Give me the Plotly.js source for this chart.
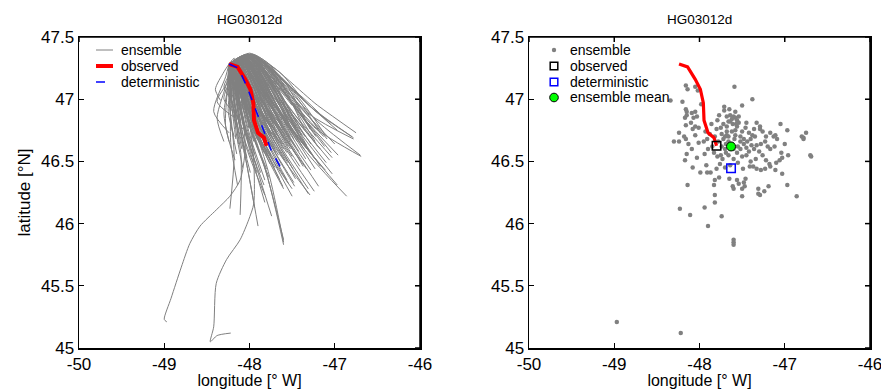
<!DOCTYPE html>
<html>
<head>
<meta charset="utf-8">
<script src="https://cdn.plot.ly/plotly-3.0.1.min.js"></script>
<style>html,body{margin:0;padding:0;background:#fff;}#chart{width:881px;height:389px;}</style>
</head>
<body>
<div id="chart"></div>
<script>
// ---------------- data ----------------
const plotTitle = 'HG03012d';
const xRange = [-50, -46];
const yRange = [45, 47.5];
const xTickVals = [-50, -49, -48, -47, -46];
const xTickText = ['-50', '-49', '-48', '-47', '-46'];
const yTickVals = [45, 45.5, 46, 46.5, 47, 47.5];
const yTickText = ['45', '45.5', '46', '46.5', '47', '47.5'];
const legendLeftLabels = ['ensemble', 'observed', 'deterministic'];
const legendRightLabels = ['ensemble', 'observed', 'deterministic', 'ensemble mean'];

// observed drifter track
const obsLon = [-48.24, -48.14, -48.05, -47.99, -47.955, -47.947, -47.90, -47.83, -47.80];
const obsLat = [47.283, 47.26, 47.16, 47.08, 46.97, 46.83, 46.73, 46.69, 46.625];
// deterministic forecast track
const detLon = [-48.24, -48.13, -48.03, -47.94, -47.84, -47.74, -47.63];
const detLat = [47.283, 47.25, 47.10, 46.94, 46.75, 46.58, 46.445];
// ensemble mean end position
const meanLon = [-47.63];
const meanLat = [46.62];

// ensemble members: early waypoint, mid waypoint, end position
const endLon = [
-48.16,-48.14,-48.05,-48.02,-47.59,-47.38,-48.34,-48.20,-47.50,-47.98,
-48.16,-48.15,-48.15,-48.17,-48.09,-48.05,-48.07,-48.03,-47.71,-47.71,
-47.77,-47.68,-47.64,-47.60,-47.58,-47.56,-47.54,-47.45,-47.33,-47.29,
-47.05,-47.62,-47.66,-47.57,-48.16,-48.10,-48.05,-48.08,-48.01,-48.24,
-48.18,-48.05,-47.79,-47.75,-47.72,-47.68,-47.64,-47.61,-47.56,-47.54,
-47.68,-47.66,-47.70,-47.62,-47.58,-47.50,-47.46,-47.42,-47.38,-47.36,
-47.29,-47.26,-47.17,-47.13,-47.11,-46.97,-46.80,-46.78,-46.75,-46.78,
-48.30,-48.24,-48.16,-48.13,-48.01,-47.95,-47.91,-47.85,-47.72,-47.69,
-47.68,-47.74,-47.59,-47.52,-47.48,-47.39,-47.33,-47.28,-47.23,-47.17,
-47.09,-47.55,-47.45,-47.60,-47.78,-47.82,-47.88,-47.93,-48.15,-48.09,
-48.03,-48.17,-47.83,-47.79,-47.75,-47.73,-47.69,-47.66,-47.56,-47.50,
-47.40,-47.34,-47.26,-47.22,-47.18,-47.10,-47.04,-47.03,-46.96,-46.70,
-46.69,-48.08,-47.99,-47.92,-47.91,-47.87,-47.80,-47.49,-47.41,-47.37,
-47.33,-47.28,-47.23,-47.17,-47.11,-47.03,-47.06,-47.55,-47.60,-47.45,
-47.64,-48.14,-47.83,-47.82,-47.77,-47.65,-47.56,-47.54,-47.50,-47.47,
-47.46,-47.48,-47.31,-47.29,-47.24,-47.19,-46.97,-46.86,-47.82,-47.60,
-47.61,-47.50,-47.31,-48.23,-48.11,-47.94,-47.82,-47.74,-47.90,-47.60,
-47.60,-47.60,-47.70,-47.66,-47.62,-47.58,-47.52,-47.48,
-47.44,-47.42,-47.36,-47.30,-47.74,-47.80,-47.86,-47.90,-47.94,-47.76,
-47.70,-47.52,-47.40,-47.35,-47.22,-47.20,-47.12,-47.00,-47.58,-47.65];
const endLat = [
47.11,47.08,47.10,47.07,47.10,47.00,46.99,46.98,46.95,46.96,
46.92,46.90,46.87,46.85,46.89,46.90,46.85,46.86,46.94,46.91,
46.87,46.86,46.87,46.86,46.85,46.83,46.86,46.81,46.81,46.78,
46.80,46.84,46.82,46.80,46.79,46.81,46.78,46.76,46.77,46.73,
46.70,46.71,46.83,46.77,46.80,46.78,46.82,46.80,46.78,46.81,
46.74,46.70,46.70,46.74,46.71,46.74,46.77,46.73,46.71,46.76,
46.76,46.74,46.73,46.70,46.71,46.75,46.70,46.68,46.73,46.69,
46.66,46.66,46.68,46.64,46.65,46.66,46.68,46.62,46.68,46.64,
46.71,46.62,46.68,46.66,46.64,46.63,46.63,46.64,46.66,46.60,
46.68,46.62,46.61,46.60,46.66,46.70,46.72,46.74,46.56,46.60,
46.53,46.51,46.57,46.54,46.55,46.52,46.57,46.55,46.57,46.54,
46.50,46.52,46.55,46.51,46.48,46.49,46.57,46.53,46.55,46.55,
46.54,46.45,46.41,46.47,46.41,46.41,46.44,46.44,46.46,46.46,
46.44,46.43,46.44,46.46,46.43,46.40,46.51,46.49,46.52,46.55,
46.47,46.31,46.31,46.35,46.37,46.36,46.35,46.32,46.28,46.30,
46.36,46.33,46.28,46.23,46.26,46.30,46.31,46.22,46.23,46.28,
46.30,46.22,46.24,46.12,46.07,46.13,46.17,46.06,45.98,45.87,
45.85,45.83,46.60,46.66,46.64,46.75,46.70,46.68,
46.66,46.58,46.60,46.58,46.72,46.76,46.80,46.60,46.56,46.48,
46.45,46.60,46.68,46.70,46.70,46.62,46.62,46.64,46.90,46.92];
const earlyLon = [
-48.18,-48.15,-48.10,-48.12,-48.00,-48.02,-48.30,-48.24,-48.05,-48.15,
-48.20,-48.18,-48.22,-48.25,-48.15,-48.12,-48.20,-48.14,-48.08,-48.10,
-48.12,-48.05,-48.00,-48.08,-48.03,-48.10,-47.98,-48.00,-48.00,-48.02,
-48.02,-48.06,-48.10,-48.04,-48.20,-48.18,-48.16,-48.24,-48.13,-48.28,
-48.22,-48.17,-48.12,-48.10,-48.07,-48.12,-48.04,-48.09,-48.02,-47.98,
-48.14,-48.10,-48.16,-48.06,-48.08,-48.02,-47.98,-48.04,-48.00,-47.96,
-47.98,-48.00,-47.96,-48.02,-48.00,-47.98,-47.95,-47.98,-47.96,-47.92,
-48.26,-48.25,-48.22,-48.20,-48.16,-48.15,-48.14,-48.15,-48.10,-48.12,
-48.06,-48.14,-48.05,-48.03,-48.06,-48.00,-47.97,-48.01,-47.95,-48.00,
-47.93,-48.08,-48.04,-48.11,-48.13,-48.16,-48.17,-48.14,-48.24,-48.20,
-48.22,-48.26,-48.16,-48.15,-48.13,-48.17,-48.12,-48.10,-48.07,-48.09,
-48.05,-48.02,-47.99,-48.03,-48.00,-47.97,-47.94,-47.98,-47.92,-47.97,
-47.94,-48.20,-48.18,-48.17,-48.19,-48.15,-48.14,-48.10,-48.06,-48.03,
-48.07,-48.02,-47.99,-47.96,-48.00,-47.95,-47.97,-48.10,-48.12,-48.06,
-48.13,-48.22,-48.17,-48.15,-48.14,-48.12,-48.10,-48.12,-48.14,-48.08,
-48.06,-48.10,-48.05,-48.08,-48.02,-47.99,-47.96,-47.98,-48.18,-48.14,
-48.12,-48.10,-48.06,-48.24,-48.22,-48.20,-48.18,-48.17,-48.22,-48.16,
-48.14,-48.18,-48.12,-48.09,-48.07,-48.04,-48.06,-48.01,
-48.05,-48.08,-48.03,-47.99,-48.11,-48.13,-48.15,-48.18,-48.19,-48.16,
-48.14,-48.07,-47.98,-47.96,-47.98,-48.00,-47.97,-47.93,-48.05,-48.08];
const earlyLat = [
47.33,47.32,47.34,47.30,47.37,47.36,47.22,47.20,47.35,47.30,
47.22,47.25,47.18,47.15,47.26,47.30,47.20,47.25,47.34,47.30,
47.28,47.33,47.35,47.32,47.36,47.31,47.36,47.36,47.36,47.34,
47.36,47.31,47.29,47.33,47.20,47.24,47.22,47.18,47.25,47.18,
47.15,47.20,47.27,47.28,47.32,47.26,47.34,47.30,47.35,47.36,
47.26,47.28,47.22,47.30,47.30,47.34,47.36,47.33,47.35,47.36,
47.36,47.34,47.35,47.33,47.36,47.36,47.35,47.35,47.36,47.34,
47.15,47.12,47.16,47.14,47.20,47.22,47.24,47.20,47.27,47.25,
47.30,47.23,47.31,47.32,47.30,47.34,47.35,47.33,47.35,47.33,
47.34,47.28,47.31,47.26,47.24,47.22,47.20,47.26,47.12,47.16,
47.10,47.08,47.20,47.18,47.22,47.17,47.24,47.25,47.28,47.27,
47.30,47.32,47.34,47.31,47.32,47.34,47.35,47.33,47.34,47.36,
47.35,47.10,47.12,47.15,47.10,47.16,47.18,47.25,47.28,47.30,
47.27,47.30,47.33,47.35,47.31,47.34,47.33,47.24,47.22,47.29,
47.20,47.05,47.12,47.15,47.16,47.20,47.22,47.20,47.18,47.24,
47.26,47.22,47.26,47.24,47.28,47.30,47.32,47.30,47.10,47.16,
47.18,47.20,47.24,47.02,47.05,47.08,47.10,47.10,47.04,47.14,
47.16,47.12,47.24,47.28,47.30,47.33,47.31,47.34,
47.30,47.28,47.31,47.34,47.27,47.26,47.24,47.18,47.16,47.18,
47.20,47.29,47.35,47.35,47.36,47.33,47.35,47.34,47.35,47.33];
const midLon = [
-48.22,-48.25,-48.00,-48.06,-47.75,-47.65,-48.40,-48.30,-47.80,-48.05,
-48.25,-48.12,-48.30,-48.38,-48.10,-48.02,-48.15,-48.08,-47.90,-47.92,
-47.95,-47.88,-47.80,-47.85,-47.78,-47.83,-47.72,-47.70,-47.60,-47.62,
-47.42,-47.86,-47.90,-47.80,-48.22,-48.15,-48.12,-48.20,-48.05,-48.42,
-48.25,-48.12,-47.98,-47.95,-47.90,-47.92,-47.84,-47.85,-47.78,-47.74,
-47.95,-47.90,-47.98,-47.86,-47.84,-47.76,-47.70,-47.72,-47.68,-47.62,
-47.58,-47.60,-47.52,-47.56,-47.48,-47.35,-47.25,-47.30,-47.20,-47.22,
-48.38,-48.30,-48.20,-48.16,-48.10,-48.05,-48.02,-48.00,-47.92,-47.92,
-47.88,-47.96,-47.82,-47.78,-47.76,-47.70,-47.64,-47.62,-47.56,-47.58,
-47.50,-47.82,-47.74,-47.86,-47.98,-48.00,-48.04,-48.06,-48.22,-48.16,
-48.12,-48.28,-48.02,-48.00,-47.96,-47.98,-47.92,-47.90,-47.84,-47.80,
-47.72,-47.68,-47.62,-47.62,-47.60,-47.54,-47.48,-47.50,-47.38,-47.20,
-47.25,-48.16,-48.10,-48.06,-48.08,-48.02,-47.98,-47.80,-47.74,-47.70,
-47.70,-47.64,-47.60,-47.55,-47.56,-47.48,-47.50,-47.84,-47.88,-47.76,
-47.90,-48.22,-48.04,-48.00,-47.98,-47.92,-47.86,-47.86,-47.86,-47.80,
-47.78,-47.82,-47.70,-47.72,-47.66,-47.60,-47.48,-47.36,-48.05,-47.90,
-47.88,-47.82,-47.68,-48.18,-48.10,-48.06,-48.00,-47.96,-48.04,-47.82,
-47.78,-47.80,-47.92,-47.88,-47.84,-47.82,-47.78,-47.74,
-47.72,-47.74,-47.68,-47.64,-47.94,-47.97,-48.00,-48.04,-48.08,-47.96,
-47.94,-47.80,-47.66,-47.64,-47.54,-47.58,-47.52,-47.44,-47.82,-47.86];
const midLat = [
47.20,47.18,47.25,47.18,47.27,47.22,47.08,47.10,47.20,47.10,
47.05,47.05,47.00,46.98,47.10,47.10,47.00,47.05,47.15,47.10,
47.05,47.10,47.12,47.08,47.15,47.05,47.16,47.12,47.15,47.08,
47.04,47.05,47.02,47.06,46.98,47.02,47.00,46.95,47.00,46.90,
46.90,46.95,47.02,46.98,47.05,47.00,47.10,47.04,47.08,47.12,
46.96,46.95,46.92,47.00,46.98,47.04,47.10,47.02,47.04,47.12,
47.10,47.06,47.08,47.02,47.06,46.98,46.92,46.88,46.95,46.90,
46.85,46.88,46.90,46.88,46.90,46.92,46.94,46.88,46.95,46.90,
46.98,46.88,46.98,46.98,46.95,46.98,47.00,46.98,47.02,46.94,
47.02,46.94,46.94,46.90,46.92,46.96,46.97,47.00,46.82,46.86,
46.80,46.78,46.85,46.82,46.84,46.80,46.86,46.85,46.88,46.86,
46.86,46.90,46.92,46.88,46.85,46.88,46.95,46.90,46.86,46.82,
46.78,46.75,46.72,46.78,46.72,46.74,46.76,46.80,46.82,46.84,
46.80,46.80,46.84,46.86,46.80,46.80,46.88,46.82,46.84,46.88,
46.80,46.65,46.70,46.72,46.74,46.74,46.74,46.70,46.66,46.70,
46.76,46.72,46.70,46.64,46.70,46.74,46.74,46.60,46.64,46.68,
46.70,46.64,46.66,46.55,46.55,46.58,46.60,46.55,46.50,46.45,
46.42,46.40,46.88,46.94,46.94,47.02,47.00,47.00,
46.96,46.90,46.92,46.94,46.98,47.00,47.02,46.88,46.84,46.78,
46.76,46.92,47.02,47.04,47.00,46.98,46.98,46.96,47.15,47.14];

// two long southward members (waypoints after the common start)
const longTrack1Lon = [-48.15, -48.08, -48.05, -48.11, -48.23, -48.39, -48.58, -48.70, -48.80, -48.92, -49.00, -48.97];
const longTrack1Lat = [47.10, 46.85, 46.60, 46.35, 46.22, 46.11, 45.98, 45.84, 45.65, 45.40, 45.23, 45.21];
const longTrack2Lon = [-48.12, -48.00, -47.95, -47.95, -48.01, -48.11, -48.27, -48.39, -48.42, -48.46, -48.38, -48.22];
const longTrack2Lat = [47.10, 46.80, 46.50, 46.16, 46.03, 45.87, 45.71, 45.52, 45.17, 45.05, 45.10, 45.12];

// ---------------- build traces ----------------
const n = Math.min(endLon.length, endLat.length, earlyLon.length, earlyLat.length, midLon.length, midLat.length);
const trajX = [], trajY = [];
for (let i = 0; i < n; i++) {
  trajX.push(obsLon[0], earlyLon[i], midLon[i], endLon[i], null);
  trajY.push(obsLat[0], earlyLat[i], midLat[i], endLat[i], null);
}
trajX.push(obsLon[0], ...longTrack1Lon, null, obsLon[0], ...longTrack2Lon);
trajY.push(obsLat[0], ...longTrack1Lat, null, obsLat[0], ...longTrack2Lat);

const dotX = endLon.slice(0, n).concat([longTrack1Lon[longTrack1Lon.length - 1], longTrack2Lon[longTrack2Lon.length - 1]]);
const dotY = endLat.slice(0, n).concat([longTrack1Lat[longTrack1Lat.length - 1], longTrack2Lat[longTrack2Lat.length - 1]]);

// plot frame (top and right edges with inward ticks) in axis units via the axis ranges
const W = 881, H = 389;
const topPx = 37, botPx = 348;
const boxes = [[79, 420], [529, 870]];
const tickLenX = 5 * (xRange[1] - xRange[0]) / (boxes[0][1] - boxes[0][0]);
const tickLenY = 5 * (yRange[1] - yRange[0]) / (botPx - topPx);
const frameX = [xRange[0], xRange[1], xRange[1]], frameY = [yRange[1], yRange[1], yRange[0]];
xTickVals.forEach(v => { frameX.push(null, v, v); frameY.push(null, yRange[1], yRange[1] - tickLenY); });
yTickVals.forEach(v => { frameX.push(null, xRange[1], xRange[1] - tickLenX); frameY.push(null, v, v); });

const gray = 'rgb(128,128,128)';
const red = 'rgb(255,0,0)', blue = 'rgb(0,0,255)', green = 'rgb(0,255,0)';
const traces = [
  {x: trajX, y: trajY, type: 'scatter', mode: 'lines', name: 'ensemble',
   line: {color: gray, width: 1, shape: 'spline', smoothing: 0.7}, connectgaps: false,
   xaxis: 'x', yaxis: 'y', showlegend: false, hoverinfo: 'skip'},
  {x: obsLon, y: obsLat, type: 'scatter', mode: 'lines', name: 'observed',
   line: {color: red, width: 4}, xaxis: 'x', yaxis: 'y', showlegend: false},
  {x: detLon, y: detLat, type: 'scatter', mode: 'lines', name: 'deterministic',
   line: {color: blue, width: 1.5, dash: 'dash'}, xaxis: 'x', yaxis: 'y', showlegend: false},

  {x: dotX, y: dotY, type: 'scatter', mode: 'markers', name: 'ensemble',
   marker: {color: gray, size: 4.5}, xaxis: 'x2', yaxis: 'y2', showlegend: false},
  {x: obsLon, y: obsLat, type: 'scatter', mode: 'lines', name: 'observed track', showlegend: false,
   line: {color: red, width: 3.2}, xaxis: 'x2', yaxis: 'y2'},
  {x: [obsLon[obsLon.length - 1]], y: [obsLat[obsLat.length - 1]], type: 'scatter', mode: 'markers', name: 'observed',
   marker: {symbol: 'square-open', color: 'black', size: 8.5, line: {width: 1.5}}, xaxis: 'x2', yaxis: 'y2', showlegend: false},
  {x: [detLon[detLon.length - 1]], y: [detLat[detLat.length - 1]], type: 'scatter', mode: 'markers', name: 'deterministic',
   marker: {symbol: 'square-open', color: blue, size: 8.5, line: {width: 1.5}}, xaxis: 'x2', yaxis: 'y2', showlegend: false},
  {x: meanLon, y: meanLat, type: 'scatter', mode: 'markers', name: 'ensemble mean',
   marker: {symbol: 'circle', color: green, size: 9, line: {color: 'black', width: 1}}, xaxis: 'x2', yaxis: 'y2', showlegend: false},
  {x: frameX, y: frameY, type: 'scatter', mode: 'lines', name: 'frame', line: {color: 'black', width: 1.5},
   cliponaxis: false, connectgaps: false, xaxis: 'x', yaxis: 'y', showlegend: false, hoverinfo: 'skip'},
  {x: frameX, y: frameY, type: 'scatter', mode: 'lines', name: 'frame', line: {color: 'black', width: 1.5},
   cliponaxis: false, connectgaps: false, xaxis: 'x2', yaxis: 'y2', showlegend: false, hoverinfo: 'skip'}
];

const fontFam = 'Arial, "Liberation Sans", sans-serif';
function xAx(domain, anchor) {
  return {domain: domain, anchor: anchor, range: xRange, tickmode: 'array', tickvals: xTickVals, ticktext: xTickText,
    ticks: 'inside', ticklen: 5, tickwidth: 1.2, tickcolor: 'black', showline: true, linewidth: 1.5, mirror: 'ticks',
    linecolor: 'black', showgrid: false, zeroline: false, ticklabeloverflow: 'allow',
    tickfont: {size: 17, family: fontFam, color: 'black'},
    title: {text: 'longitude [° W]', font: {size: 16, family: fontFam, color: 'black'}, standoff: 7}};
}
function yAx(domain, anchor, withTitle) {
  return {domain: domain, anchor: anchor, range: yRange, tickmode: 'array', tickvals: yTickVals, ticktext: yTickText,
    ticks: 'inside', ticklen: 5, tickwidth: 1.2, tickcolor: 'black', showline: true, linewidth: 1.5, mirror: 'ticks',
    linecolor: 'black', showgrid: false, zeroline: false, ticklabeloverflow: 'allow',
    tickfont: {size: 17, family: fontFam, color: 'black'},
    title: withTitle ? {text: 'latitude [°N]', font: {size: 17, family: fontFam, color: 'black'}, standoff: 6} : {text: ''}};
}

// pixel -> paper helpers (layout positions only)
const px = v => v / W, py = v => 1 - v / H;
const yDom = [py(botPx), py(topPx)];

const shapes = [];
const annotations = [];
// left legend
const legLeftY = [50, 66, 82];
const legLeftStyle = [{color: gray, width: 1}, {color: red, width: 4}, {color: blue, width: 1.5, dash: 'dash'}];
legendLeftLabels.forEach((t, i) => {
  shapes.push({type: 'line', xref: 'paper', yref: 'paper', x0: px(96), x1: px(113), y0: py(legLeftY[i]), y1: py(legLeftY[i]), line: legLeftStyle[i]});
  annotations.push({text: t, xref: 'paper', yref: 'paper', x: px(119), y: py(legLeftY[i]), xanchor: 'left', yanchor: 'middle',
    showarrow: false, font: {size: 14, family: fontFam, color: 'black'}});
});
// right legend
const legRightY = [50, 66, 82, 97.5];
const sx = 554;
shapes.push({type: 'circle', xref: 'paper', yref: 'paper', x0: px(sx - 2.2), x1: px(sx + 2.2), y0: py(50 + 2.2), y1: py(50 - 2.2), fillcolor: gray, line: {width: 0}});
shapes.push({type: 'rect', xref: 'paper', yref: 'paper', x0: px(sx - 3.8), x1: px(sx + 3.8), y0: py(66 + 3.8), y1: py(66 - 3.8), line: {color: 'black', width: 1.5}});
shapes.push({type: 'rect', xref: 'paper', yref: 'paper', x0: px(sx - 3.8), x1: px(sx + 3.8), y0: py(82 + 3.8), y1: py(82 - 3.8), line: {color: blue, width: 1.5}});
shapes.push({type: 'circle', xref: 'paper', yref: 'paper', x0: px(sx - 4.3), x1: px(sx + 4.3), y0: py(97.5 + 4.3), y1: py(97.5 - 4.3), fillcolor: green, line: {color: 'black', width: 1}});
legendRightLabels.forEach((t, i) => {
  annotations.push({text: t, xref: 'paper', yref: 'paper', x: px(568), y: py(legRightY[i]), xanchor: 'left', yanchor: 'middle',
    showarrow: false, font: {size: 14, family: fontFam, color: 'black'}});
});
// subplot titles
[249.5, 699.5].forEach(cx => {
  annotations.push({text: plotTitle, xref: 'paper', yref: 'paper', x: px(cx), y: py(19), showarrow: false,
    xanchor: 'center', yanchor: 'middle', font: {size: 13.5, family: fontFam, color: 'black'}});
});

const layout = {
  width: W, height: H, margin: {l: 0, r: 0, t: 0, b: 0},
  paper_bgcolor: 'white', plot_bgcolor: 'white',
  font: {family: fontFam, color: 'black'},
  xaxis: xAx([px(boxes[0][0]), px(boxes[0][1])], 'y'),
  yaxis: yAx(yDom, 'x', true),
  xaxis2: xAx([px(boxes[1][0]), px(boxes[1][1])], 'y2'),
  yaxis2: yAx(yDom, 'x2', false),
  showlegend: false,
  shapes: shapes,
  annotations: annotations
};
Plotly.newPlot('chart', traces, layout, {staticPlot: true, displayModeBar: false});
</script>
</body>
</html>
